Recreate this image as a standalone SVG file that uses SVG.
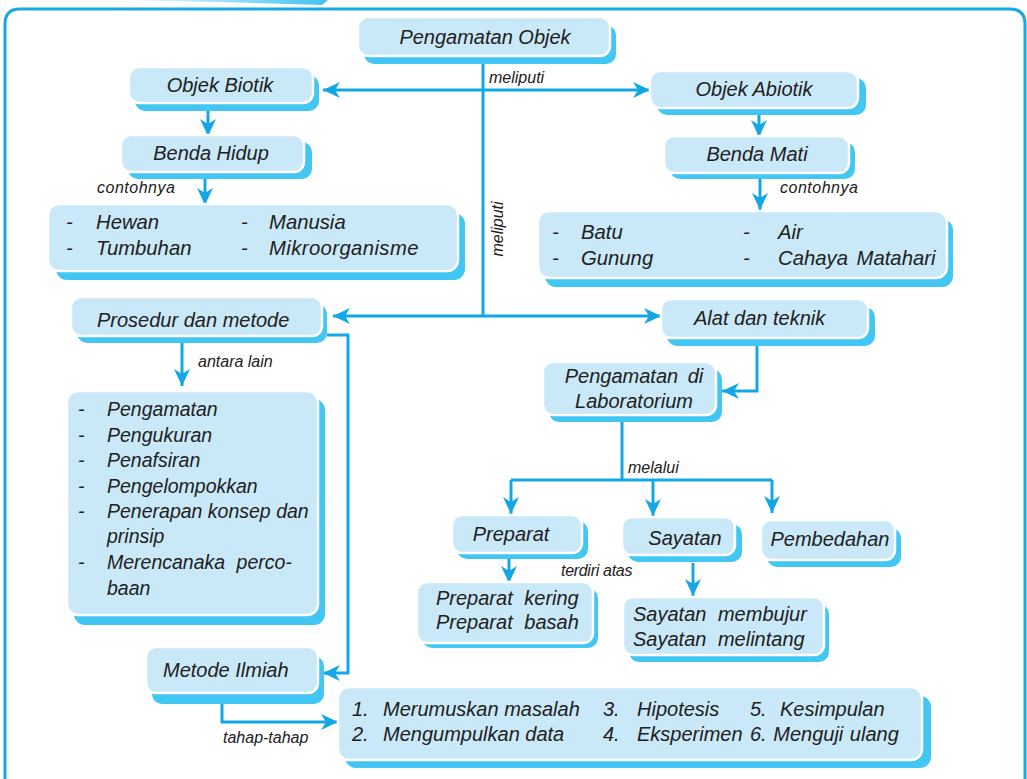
<svg xmlns="http://www.w3.org/2000/svg" width="1027" height="779" viewBox="0 0 1027 779">
<defs>
<linearGradient id="tabg" x1="0" y1="0" x2="1" y2="0">
<stop offset="0" stop-color="#ffffff"/>
<stop offset="1" stop-color="#3fc3f1"/>
</linearGradient>
<marker id="ah" markerUnits="userSpaceOnUse" markerWidth="18" markerHeight="18" viewBox="0 0 18 18" refX="17" refY="9" orient="auto">
<path d="M0,1 L17,9 L0,17 L5,9 z" fill="#14a7e6"/>
</marker>
</defs>
<style>
.sh{fill:#42c6f3}
.bx{fill:#c9e9f8;stroke:#ffffff;stroke-width:2.5}
.t{font-family:"Liberation Sans",Arial,sans-serif;font-style:italic;font-size:20px;fill:#222021}
.l{font-size:19.5px}
.w{font-size:20.3px}
.s{font-family:"Liberation Sans",Arial,sans-serif;font-style:italic;font-size:16px;fill:#222021}
.c{fill:none;stroke:#14a7e6;stroke-width:3}
.a{marker-end:url(#ah)}
</style>
<rect width="1027" height="779" fill="#ffffff"/>
<polygon points="110,0 328,0 322,5 220,2" fill="url(#tabg)"/>
<path d="M5,800 V24 Q5,9 20,9 H1010 Q1025,9 1025,24 V800" fill="none" stroke="#17a8e6" stroke-width="3"/>

<g id="connectors">
<path class="c" d="M483,63 V316"/>
<path class="c a" d="M483,90 H323"/>
<path class="c a" d="M483,90 H650"/>
<path class="c a" d="M483,316 H333"/>
<path class="c a" d="M483,316 H661"/>
<path class="c a" d="M208,111 V136"/>
<path class="c a" d="M205,178 V205"/>
<path class="c a" d="M759,115 V137"/>
<path class="c a" d="M760,178 V210"/>
<path class="c a" d="M182,343 V386"/>
<path class="c a" d="M327,335 H348 V673 H323"/>
<path class="c a" d="M757,339 V391 H722"/>
<path class="c" d="M622,422 V480"/>
<path class="c" d="M511,480 H772"/>
<path class="c a" d="M511,480 V514"/>
<path class="c a" d="M653,480 V516"/>
<path class="c a" d="M772,480 V513"/>
<path class="c a" d="M509,559 V583"/>
<path class="c a" d="M693,563 V596"/>
<path class="c a" d="M222,704 V722 H338"/>
<text class="s" x="489" y="83">meliputi</text>
<text class="s" transform="translate(503,229) rotate(-90)" text-anchor="middle">meliputi</text>
<text class="s" x="97" y="193" letter-spacing="0.5">contohnya</text>
<text class="s" x="780" y="193" letter-spacing="0.5">contohnya</text>
<text class="s" x="198" y="367" font-size="16.5">antara lain</text>
<text class="s" x="628" y="473">melalui</text>
<text class="s" x="561" y="576" font-size="15" letter-spacing="-0.3">terdiri atas</text>
<text class="s" x="223" y="743" font-size="17">tahap-tahap</text>
</g>

<g id="pengamatan-objek">
<rect class="sh" x="364" y="25" width="252" height="39" rx="10"/>
<rect class="bx" x="358" y="17" width="252" height="39" rx="10"/>
<text class="t" x="485" y="44" text-anchor="middle" font-size="20.5">Pengamatan Objek</text>
</g>
<g id="objek-biotik">
<rect class="sh" x="135" y="75" width="184" height="36" rx="10"/>
<rect class="bx" x="129" y="67" width="184" height="36" rx="10"/>
<text class="t" x="220" y="92" text-anchor="middle" font-size="21">Objek Biotik</text>
</g>
<g id="objek-abiotik">
<rect class="sh" x="657" y="78" width="209" height="37" rx="10"/>
<rect class="bx" x="650" y="71" width="208" height="37" rx="10"/>
<text class="t" x="754" y="96" text-anchor="middle">Objek Abiotik</text>
</g>
<g id="benda-hidup">
<rect class="sh" x="128" y="142" width="184" height="37" rx="10"/>
<rect class="bx" x="121" y="135" width="183" height="37" rx="10"/>
<text class="t" x="211" y="160" text-anchor="middle">Benda Hidup</text>
</g>
<g id="benda-mati">
<rect class="sh" x="670" y="142" width="185" height="37" rx="10"/>
<rect class="bx" x="664" y="136" width="185" height="37" rx="10"/>
<text class="t" x="757" y="161" text-anchor="middle">Benda Mati</text>
</g>
<g id="contoh-biotik">
<rect class="sh" x="56" y="213" width="409" height="67" rx="11"/>
<rect class="bx" x="48" y="204" width="410" height="67" rx="11"/>
<text class="t w" x="66" y="229">-</text>
<text class="t w" x="96" y="229">Hewan</text>
<text class="t w" x="66" y="255">-</text>
<text class="t w" x="96" y="255">Tumbuhan</text>
<text class="t w" x="241" y="229">-</text>
<text class="t w" x="269" y="229">Manusia</text>
<text class="t w" x="241" y="255">-</text>
<text class="t w" x="269" y="255" letter-spacing="0.4">Mikroorganisme</text>
</g>
<g id="contoh-abiotik">
<rect class="sh" x="545" y="219" width="408" height="68" rx="11"/>
<rect class="bx" x="538" y="211" width="409" height="67" rx="11"/>
<text class="t w" x="552" y="239">-</text>
<text class="t w" x="581" y="239">Batu</text>
<text class="t w" x="552" y="265">-</text>
<text class="t w" x="581" y="265">Gunung</text>
<text class="t w" x="743" y="239">-</text>
<text class="t w" x="778" y="239">Air</text>
<text class="t w" x="743" y="265">-</text>
<text class="t w" x="778" y="265" word-spacing="3">Cahaya Matahari</text>
</g>
<g id="prosedur">
<rect class="sh" x="77" y="304" width="250" height="39" rx="10"/>
<rect class="bx" x="71" y="297" width="251" height="39" rx="10"/>
<text class="t" x="97" y="327">Prosedur dan metode</text>
</g>
<g id="alat">
<rect class="sh" x="667" y="307" width="208" height="39" rx="10"/>
<rect class="bx" x="661" y="299" width="207" height="39" rx="10"/>
<text class="t" x="694" y="325">Alat dan teknik</text>
</g>
<g id="metode-list">
<rect class="sh" x="74" y="399" width="251" height="226" rx="11"/>
<rect class="bx" x="67" y="391" width="251" height="224" rx="11"/>
<text class="t l" x="78" y="416">-</text>
<text class="t l" x="107" y="416">Pengamatan</text>
<text class="t l" x="78" y="442">-</text>
<text class="t l" x="107" y="442">Pengukuran</text>
<text class="t l" x="78" y="467">-</text>
<text class="t l" x="107" y="467">Penafsiran</text>
<text class="t l" x="78" y="493">-</text>
<text class="t l" x="107" y="493">Pengelompokkan</text>
<text class="t l" x="78" y="518">-</text>
<text class="t l" x="107" y="518">Penerapan konsep dan</text>
<text class="t l" x="107" y="543">prinsip</text>
<text class="t l" x="78" y="569">-</text>
<text class="t l" x="107" y="569" word-spacing="6">Merencanaka perco-</text>
<text class="t l" x="107" y="595">baan</text>
</g>
<g id="laboratorium">
<rect class="sh" x="549" y="369" width="173" height="53" rx="10"/>
<rect class="bx" x="543" y="362" width="173" height="53" rx="10"/>
<text class="t" x="634" y="383" text-anchor="middle" word-spacing="4">Pengamatan di</text>
<text class="t" x="634" y="408" text-anchor="middle">Laboratorium</text>
</g>
<g id="preparat">
<rect class="sh" x="457" y="521" width="131" height="38" rx="10"/>
<rect class="bx" x="452" y="515" width="130" height="38" rx="10"/>
<text class="t" x="511" y="541" text-anchor="middle">Preparat</text>
</g>
<g id="sayatan">
<rect class="sh" x="628" y="524" width="114" height="38" rx="10"/>
<rect class="bx" x="622" y="517" width="113" height="38" rx="10"/>
<text class="t" x="685" y="545" text-anchor="middle">Sayatan</text>
</g>
<g id="pembedahan">
<rect class="sh" x="767" y="528" width="134" height="39" rx="10"/>
<rect class="bx" x="761" y="520" width="134" height="40" rx="10"/>
<text class="t" x="830" y="546" text-anchor="middle">Pembedahan</text>
</g>
<g id="preparat-jenis">
<rect class="sh" x="422" y="588" width="176" height="60" rx="10"/>
<rect class="bx" x="417" y="582" width="176" height="61" rx="10"/>
<text class="t" x="436" y="605" word-spacing="6">Preparat kering</text>
<text class="t" x="436" y="629" word-spacing="6">Preparat basah</text>
</g>
<g id="sayatan-jenis">
<rect class="sh" x="629" y="604" width="200" height="58" rx="10"/>
<rect class="bx" x="623" y="597" width="201" height="58" rx="10"/>
<text class="t" x="633" y="621" word-spacing="6">Sayatan membujur</text>
<text class="t" x="633" y="646" word-spacing="6">Sayatan melintang</text>
</g>
<g id="metode-ilmiah">
<rect class="sh" x="152" y="656" width="172" height="48" rx="10"/>
<rect class="bx" x="146" y="647" width="172" height="46" rx="10"/>
<text class="t" x="163" y="677" font-size="20.5">Metode Ilmiah</text>
</g>
<g id="tahapan">
<rect class="sh" x="345" y="696" width="586" height="72" rx="11"/>
<rect class="bx" x="338" y="687" width="584" height="73" rx="11"/>
<text class="t" x="352" y="716">1.</text>
<text class="t" x="383" y="716">Merumuskan masalah</text>
<text class="t" x="352" y="741">2.</text>
<text class="t" x="383" y="741">Mengumpulkan data</text>
<text class="t" x="603" y="716">3.</text>
<text class="t" x="637" y="716">Hipotesis</text>
<text class="t" x="603" y="741">4.</text>
<text class="t" x="637" y="741">Eksperimen</text>
<text class="t" x="750" y="716">5.</text>
<text class="t" x="780" y="716">Kesimpulan</text>
<text class="t" x="750" y="741" word-spacing="1">6. Menguji ulang</text>
</g>
</svg>
